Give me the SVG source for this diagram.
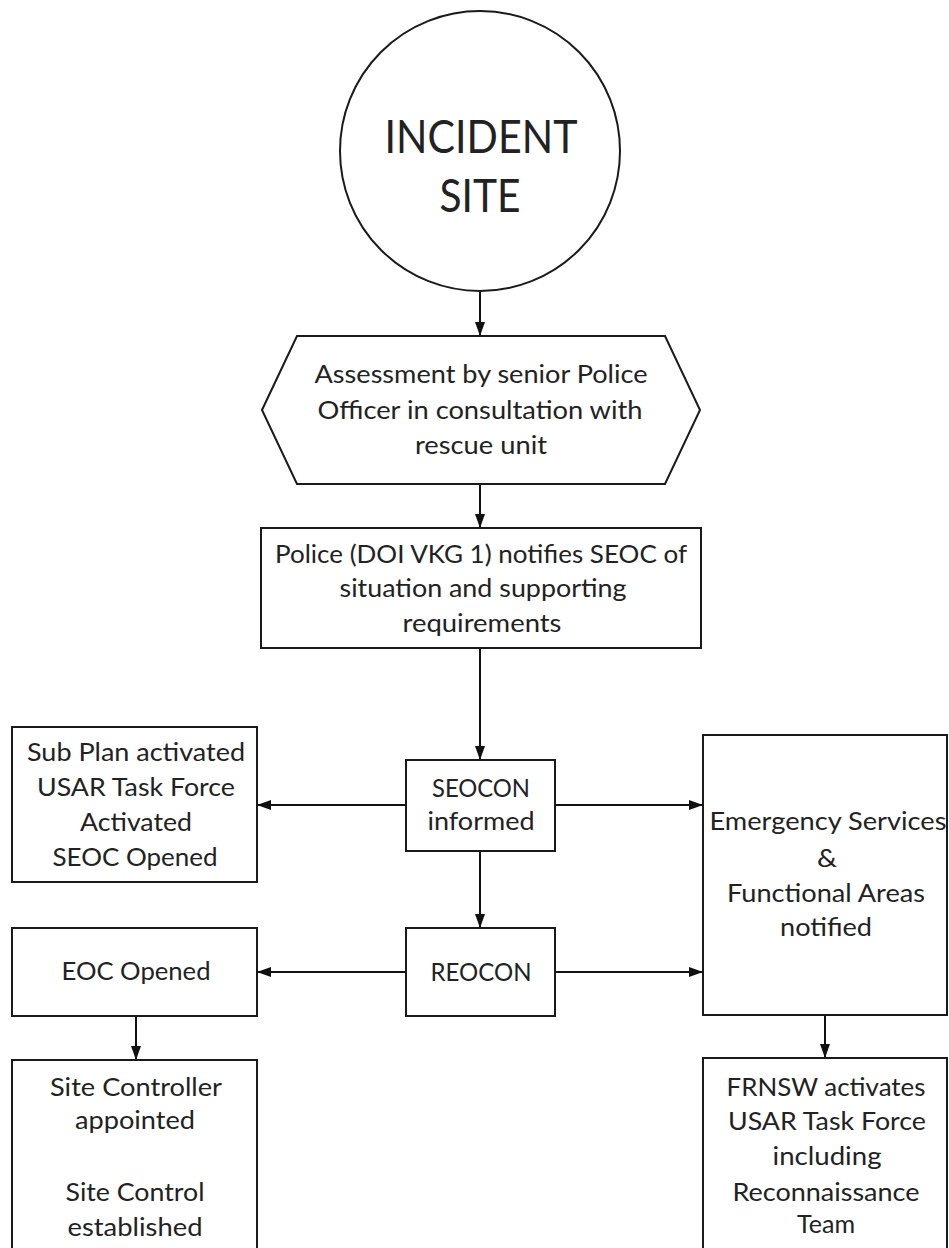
<svg xmlns="http://www.w3.org/2000/svg" width="949" height="1248" viewBox="0 0 949 1248">
<style>
.shape{fill:#fff;stroke:#1a1a1a;stroke-width:2}
.t{font-family:Lato,"Open Sans","Liberation Sans",sans-serif;font-size:25px;fill:#222;text-anchor:middle}
.big{font-size:46px}
.conn{stroke:#111;stroke-width:2;fill:none;marker-end:url(#arr)}
</style>
<defs>
<marker id="arr" viewBox="0 0 14 10" refX="14" refY="5" markerWidth="14" markerHeight="10" markerUnits="userSpaceOnUse" orient="auto">
<path d="M0,0 L14,5 L0,10 z" fill="#111"/>
</marker>
</defs>
<rect width="949" height="1248" fill="#fff"/>
<g id="connectors">
<line class="conn" x1="480" y1="291" x2="480" y2="336"/>
<line class="conn" x1="480" y1="484" x2="480" y2="528"/>
<line class="conn" x1="480" y1="648" x2="480" y2="760"/>
<line class="conn" x1="406" y1="805" x2="257" y2="805"/>
<line class="conn" x1="555" y1="805" x2="703" y2="805"/>
<line class="conn" x1="480" y1="851" x2="480" y2="928"/>
<line class="conn" x1="406" y1="972" x2="257" y2="972"/>
<line class="conn" x1="555" y1="972" x2="703" y2="972"/>
<line class="conn" x1="136" y1="1016" x2="136" y2="1060"/>
<line class="conn" x1="825" y1="1015" x2="825" y2="1058"/>
</g>
<g id="incident-site">
<circle class="shape" cx="480" cy="151" r="140"/>
<text class="t big" x="481" y="153" textLength="193" lengthAdjust="spacingAndGlyphs">INCIDENT</text>
<text class="t big" x="480" y="212" textLength="81" lengthAdjust="spacingAndGlyphs">SITE</text>
</g>
<g id="assessment">
<polygon class="shape" points="262,410 297,336 665,336 700,410 665,484 297,484"/>
<text class="t" x="481" y="383" textLength="333" lengthAdjust="spacingAndGlyphs">Assessment by senior Police</text>
<text class="t" x="480" y="419" textLength="325" lengthAdjust="spacingAndGlyphs">Officer in consultation with</text>
<text class="t" x="481" y="454" textLength="132" lengthAdjust="spacingAndGlyphs">rescue unit</text>
</g>
<g id="police">
<rect class="shape" x="261" y="528" width="440" height="120"/>
<text class="t" x="481" y="563" textLength="412" lengthAdjust="spacingAndGlyphs">Police (DOI VKG 1) notifies SEOC of</text>
<text class="t" x="483" y="597" textLength="287" lengthAdjust="spacingAndGlyphs">situation and supporting</text>
<text class="t" x="482" y="632" textLength="159" lengthAdjust="spacingAndGlyphs">requirements</text>
</g>
<g id="seocon">
<rect class="shape" x="406" y="760" width="149" height="91"/>
<text class="t" x="481" y="797" textLength="98" lengthAdjust="spacingAndGlyphs">SEOCON</text>
<text class="t" x="481" y="830" textLength="107" lengthAdjust="spacingAndGlyphs">informed</text>
</g>
<g id="reocon">
<rect class="shape" x="406" y="928" width="149" height="88"/>
<text class="t" x="481" y="981" textLength="101" lengthAdjust="spacingAndGlyphs">REOCON</text>
</g>
<g id="subplan">
<rect class="shape" x="12" y="727" width="245" height="155"/>
<text class="t" x="136" y="761" textLength="218" lengthAdjust="spacingAndGlyphs">Sub Plan activated</text>
<text class="t" x="136" y="796" textLength="198" lengthAdjust="spacingAndGlyphs">USAR Task Force</text>
<text class="t" x="136" y="831" textLength="112" lengthAdjust="spacingAndGlyphs">Activated</text>
<text class="t" x="135" y="866" textLength="165" lengthAdjust="spacingAndGlyphs">SEOC Opened</text>
</g>
<g id="eoc">
<rect class="shape" x="12" y="928" width="245" height="88"/>
<text class="t" x="136" y="980" textLength="149" lengthAdjust="spacingAndGlyphs">EOC Opened</text>
</g>
<g id="emergency">
<rect class="shape" x="703" y="735" width="244" height="280"/>
<text class="t" x="828" y="830" textLength="237" lengthAdjust="spacingAndGlyphs">Emergency Services</text>
<text class="t" x="827" y="867" textLength="20" lengthAdjust="spacingAndGlyphs">&amp;</text>
<text class="t" x="826" y="902" textLength="198" lengthAdjust="spacingAndGlyphs">Functional Areas</text>
<text class="t" x="826" y="936" textLength="92" lengthAdjust="spacingAndGlyphs">notified</text>
</g>
<g id="site-controller">
<rect class="shape" x="12" y="1060" width="245" height="200"/>
<text class="t" x="136" y="1096" textLength="172" lengthAdjust="spacingAndGlyphs">Site Controller</text>
<text class="t" x="135" y="1129" textLength="120" lengthAdjust="spacingAndGlyphs">appointed</text>
<text class="t" x="135" y="1201" textLength="139" lengthAdjust="spacingAndGlyphs">Site Control</text>
<text class="t" x="135" y="1236" textLength="135" lengthAdjust="spacingAndGlyphs">established</text>
</g>
<g id="frnsw">
<rect class="shape" x="703" y="1058" width="244" height="200"/>
<text class="t" x="826" y="1096" textLength="199" lengthAdjust="spacingAndGlyphs">FRNSW activates</text>
<text class="t" x="827" y="1130" textLength="198" lengthAdjust="spacingAndGlyphs">USAR Task Force</text>
<text class="t" x="827" y="1165" textLength="109" lengthAdjust="spacingAndGlyphs">including</text>
<text class="t" x="826" y="1201" textLength="187" lengthAdjust="spacingAndGlyphs">Reconnaissance</text>
<text class="t" x="826" y="1233" textLength="58" lengthAdjust="spacingAndGlyphs">Team</text>
</g>
</svg>
